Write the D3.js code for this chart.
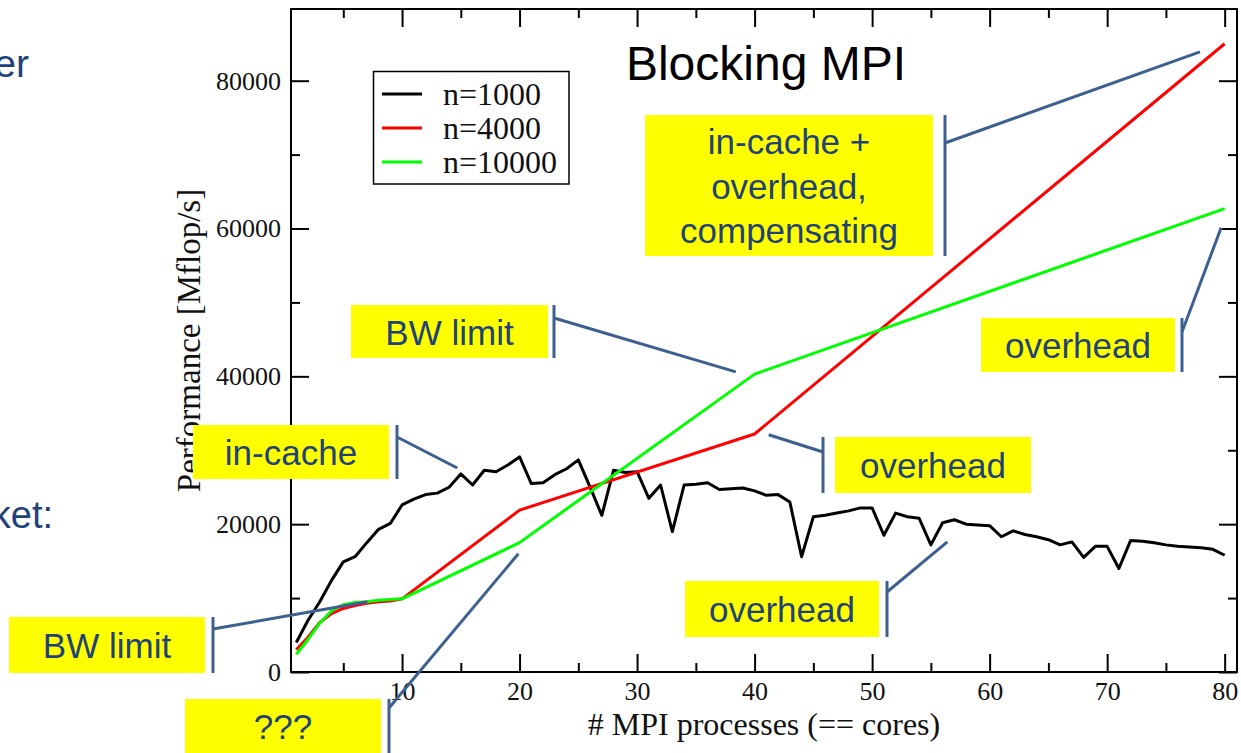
<!DOCTYPE html>
<html>
<head>
<meta charset="utf-8">
<script src="https://cdn.jsdelivr.net/npm/d3@7/dist/d3.min.js"></script>
<style>
  html, body { margin: 0; padding: 0; background: #fff; }
  svg { display: block; }
</style>
</head>
<body>
<svg id="chart" width="1241" height="753"></svg>
<script>
// ---- data ----
const procsSmall = [1,2,3,4,5,6,7,8,9,10,11,12,13,14,15,16,17,18,19,20,
  21,22,23,24,25,26,27,28,29,30,31,32,33,34,35,36,37,38,39,40,
  41,42,43,44,45,46,47,48,49,50,51,52,53,54,55,56,57,58,59,60,
  61,62,63,64,65,66,67,68,69,70,71,72,73,74,75,76,77,78,79,80];
const perfN1000 = [4000,7000,9500,12400,14900,15600,17500,19300,20100,22600,
  23400,24000,24200,25000,26800,25300,27300,27100,28000,29100,
  25500,25600,26700,27500,28700,25000,21200,27300,27000,27100,
  23500,25300,19000,25300,25400,25600,24700,24800,24900,24500,
  23900,24000,23000,15600,21000,21200,21500,21800,22200,22200,
  18500,21500,21000,20800,17200,20200,20600,20000,19900,19800,
  18300,19100,18600,18300,17900,17200,17600,15500,17000,17000,
  14000,17800,17700,17500,17200,17000,16900,16800,16600,15800];

const procsLarge = [1,2,3,4,5,6,7,8,9,10,20,40,80];
const perfN4000  = [3000,4700,6700,7900,8600,9000,9300,9500,9600,9900,21900,32200,85000];
const perfN10000 = [2400,4400,6600,8300,9100,9400,9500,9700,9800,9900,17500,40300,62700];

const seriesNames  = ["n=1000", "n=4000", "n=10000"];
const seriesColors = ["#000000", "#ff0000", "#00ff00"];

const xMajorTicks = [10,20,30,40,50,60,70,80];
const xMinorTicks = [5,15,25,35,45,55,65,75];
const yMajorTicks = [0,20000,40000,60000,80000];
const yMinorTicks = [10000,30000,50000,70000];

const chartTitle = "Blocking MPI";
const xTitle = "# MPI processes (== cores)";
const yTitle = "Performance [Mflop/s]";

// ---- layout ----
const svg = d3.select("#chart");
const plot = { left: 291, right: 1237, top: 9, bottom: 672 };

const x = d3.scaleLinear().domain([0.55, 81.05]).range([plot.left, plot.right]);
const y = d3.scaleLinear().domain([0, 89700]).range([plot.bottom, plot.top]);

const serif = "'Liberation Serif', 'Times New Roman', serif";
const sans = "'Liberation Sans', Arial, sans-serif";
const noteText = "#1f4379";
const noteLine = "#3d6090";

// slide body text fragments at the left edge
svg.append("text").attr("x", 29).attr("y", 77).attr("text-anchor", "end")
  .attr("font-family", sans).attr("font-size", 39).attr("fill", "#1f4379").text("er");
svg.append("text").attr("x", 53).attr("y", 528).attr("text-anchor", "end")
  .attr("font-family", sans).attr("font-size", 38).attr("fill", "#1f4379").text("ket:");

// ---- axes (inward ticks on all four sides) ----
function styleAxis(g) {
  g.select(".domain").remove();
  g.selectAll("line").attr("stroke", "#000").attr("stroke-width", 2);
  g.selectAll("text").attr("font-family", serif).attr("font-size", 26).attr("fill", "#111");
}

svg.append("g").attr("transform", `translate(0,${plot.bottom})`)
  .call(d3.axisBottom(x).tickValues(xMajorTicks).tickSize(-18).tickPadding(10).tickFormat(d3.format("d")))
  .call(styleAxis);
svg.append("g").attr("transform", `translate(0,${plot.bottom})`)
  .call(d3.axisBottom(x).tickValues(xMinorTicks).tickSize(-9).tickFormat(""))
  .call(styleAxis);
svg.append("g").attr("transform", `translate(0,${plot.top})`)
  .call(d3.axisTop(x).tickValues(xMajorTicks).tickSize(-18).tickFormat(""))
  .call(styleAxis);
svg.append("g").attr("transform", `translate(0,${plot.top})`)
  .call(d3.axisTop(x).tickValues(xMinorTicks).tickSize(-9).tickFormat(""))
  .call(styleAxis);

svg.append("g").attr("transform", `translate(${plot.left},0)`)
  .call(d3.axisLeft(y).tickValues(yMajorTicks).tickSize(-18).tickPadding(10).tickFormat(d3.format("d")))
  .call(styleAxis);
svg.append("g").attr("transform", `translate(${plot.left},0)`)
  .call(d3.axisLeft(y).tickValues(yMinorTicks).tickSize(-9).tickFormat(""))
  .call(styleAxis);
svg.append("g").attr("transform", `translate(${plot.right},0)`)
  .call(d3.axisRight(y).tickValues(yMajorTicks).tickSize(-18).tickFormat(""))
  .call(styleAxis);
svg.append("g").attr("transform", `translate(${plot.right},0)`)
  .call(d3.axisRight(y).tickValues(yMinorTicks).tickSize(-9).tickFormat(""))
  .call(styleAxis);

// frame
svg.append("rect")
  .attr("x", plot.left).attr("y", plot.top)
  .attr("width", plot.right - plot.left).attr("height", plot.bottom - plot.top)
  .attr("fill", "none").attr("stroke", "#000").attr("stroke-width", 2);

// axis titles
svg.append("text")
  .attr("x", (plot.left + plot.right) / 2).attr("y", 735)
  .attr("text-anchor", "middle").attr("font-family", serif).attr("font-size", 32).attr("fill", "#111")
  .text(xTitle);
svg.append("text")
  .attr("transform", `translate(200,${(plot.top + plot.bottom) / 2}) rotate(-90)`)
  .attr("text-anchor", "middle").attr("font-family", serif).attr("font-size", 33).attr("fill", "#111")
  .text(yTitle);

// ---- series ----
const line = d3.line().x(d => x(d[0])).y(d => y(d[1]));
const series = [
  procsSmall.map((p, i) => [p, perfN1000[i]]),
  procsLarge.map((p, i) => [p, perfN4000[i]]),
  procsLarge.map((p, i) => [p, perfN10000[i]])
];
series.forEach((pts, i) => {
  svg.append("path").datum(pts)
    .attr("d", line)
    .attr("fill", "none")
    .attr("stroke", seriesColors[i])
    .attr("stroke-width", 3)
    .attr("stroke-linejoin", "round");
});

// title
svg.append("text").attr("x", 766).attr("y", 80).attr("text-anchor", "middle")
  .attr("font-family", sans).attr("font-size", 48).attr("fill", "#000").text(chartTitle);

// ---- legend ----
const legend = svg.append("g");
legend.append("rect").attr("x", 373.5).attr("y", 71.5).attr("width", 195.5).attr("height", 112.5)
  .attr("fill", "#fff").attr("stroke", "#000").attr("stroke-width", 1.5);
seriesNames.forEach((name, i) => {
  const ly = 94 + i * 34;
  legend.append("line").attr("x1", 382).attr("x2", 422).attr("y1", ly).attr("y2", ly)
    .attr("stroke", seriesColors[i]).attr("stroke-width", 3);
  legend.append("text").attr("x", 443).attr("y", ly + 11)
    .attr("font-family", serif).attr("font-size", 32).attr("fill", "#111").text(name);
});

// ---- callout notes: yellow box, bracket bar, leader line to a data location ----
const notes = [
  { lines: ["in-cache +", "overhead,", "compensating"], box: [645, 115, 288, 141], bar: 945, from: 143, tip: [77.9, 83900] },
  { lines: ["BW limit"], box: [351, 305, 197, 53], bar: 554, from: 318, tip: [38.4, 40600] },
  { lines: ["overhead"], box: [981, 318, 194, 54], bar: 1182, from: 332, tip: [79.7, 60100] },
  { lines: ["in-cache"], box: [193, 425, 196, 54], bar: 397, from: 437, tip: [14.7, 27600] },
  { lines: ["overhead"], box: [835, 437, 196, 56], bar: 823, from: 452, tip: [41.2, 32100] },
  { lines: ["overhead"], box: [685, 581, 194, 56], bar: 887, from: 592, tip: [56.4, 17600] },
  { lines: ["BW limit"], box: [9, 617, 196, 56], bar: 213, from: 629, tip: [7.05, 9500] },
  { lines: ["???"], box: [185, 699, 196, 54], bar: 389, from: 708, tip: [19.9, 16000] }
];

const noteLayer = svg.append("g");
notes.forEach(n => {
  const [bx, by, bw, bh] = n.box;
  noteLayer.append("rect").attr("x", bx).attr("y", by).attr("width", bw).attr("height", bh).attr("fill", "#ffff00");
  noteLayer.append("line").attr("x1", n.bar).attr("x2", n.bar).attr("y1", by).attr("y2", by + bh)
    .attr("stroke", noteLine).attr("stroke-width", 3);
  noteLayer.append("line").attr("x1", n.bar).attr("y1", n.from)
    .attr("x2", x(n.tip[0])).attr("y2", y(n.tip[1]))
    .attr("stroke", noteLine).attr("stroke-width", 3);
  const lh = 44.5;
  const base = by + (bh - (n.lines.length - 1) * lh) / 2 + 13;
  n.lines.forEach((t, k) => {
    noteLayer.append("text").attr("x", bx + bw / 2).attr("y", base + k * lh)
      .attr("text-anchor", "middle").attr("font-family", sans).attr("font-size", 35)
      .attr("fill", noteText).text(t);
  });
});
</script>
</body>
</html>
